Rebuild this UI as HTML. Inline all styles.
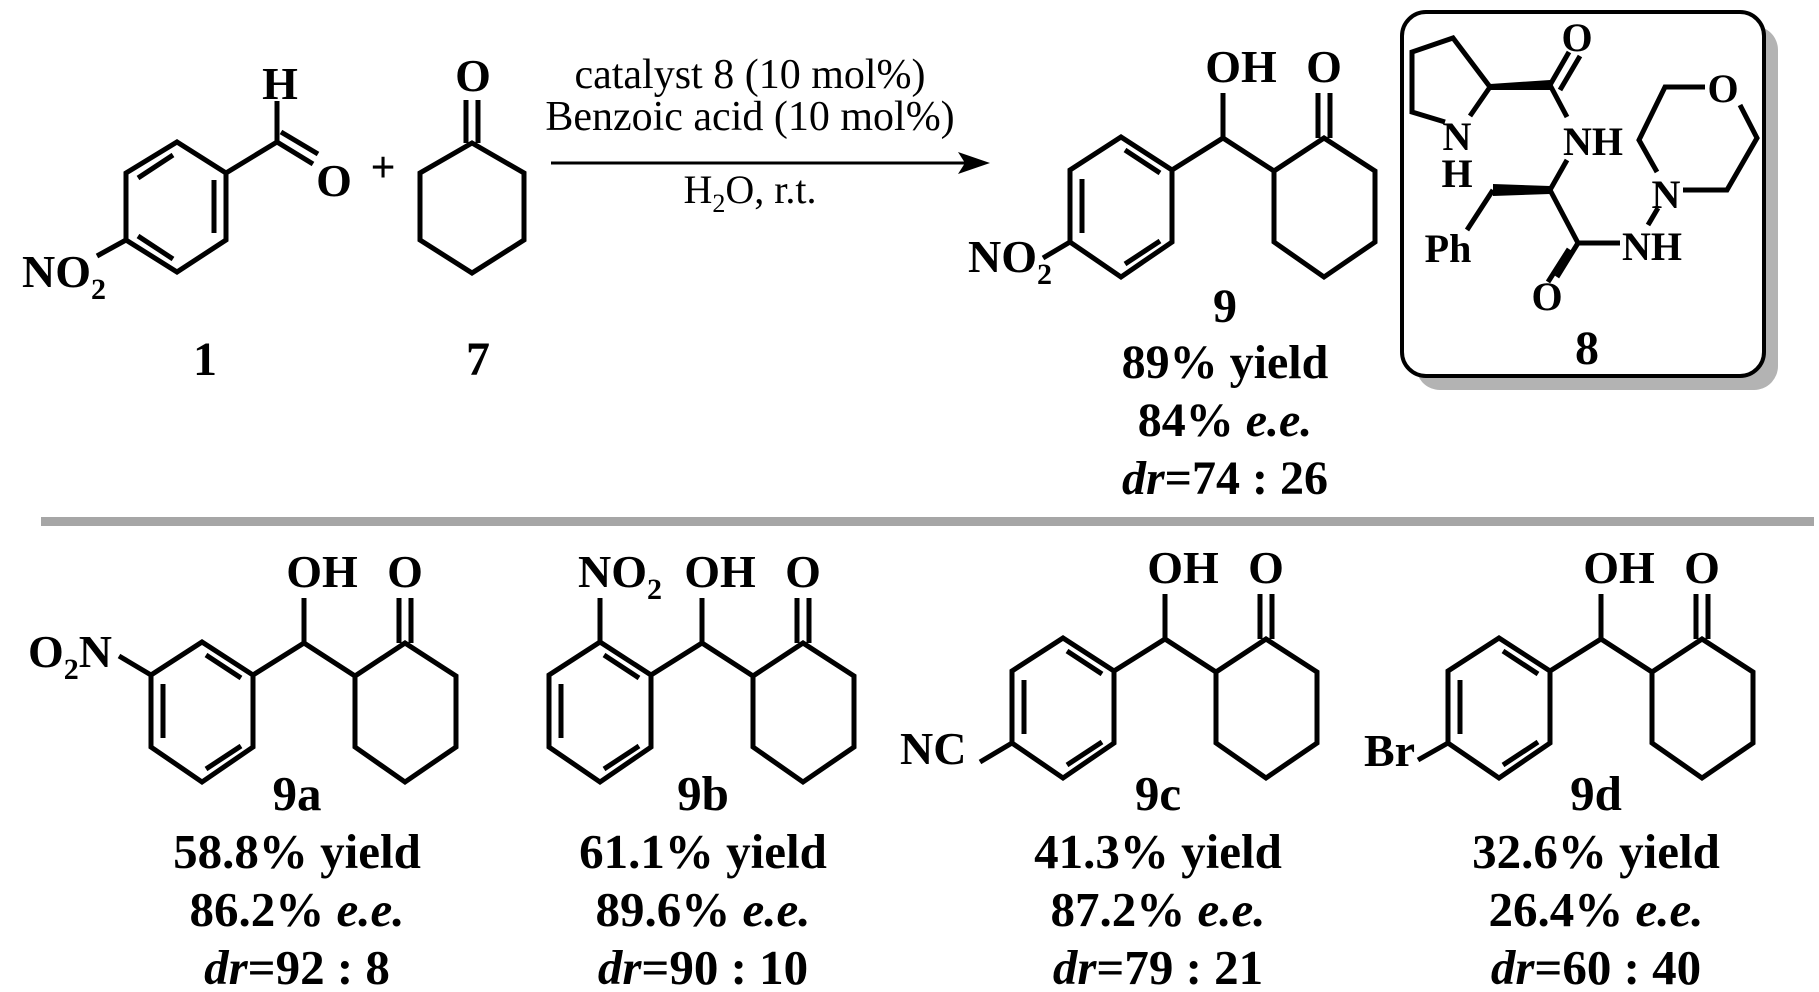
<!DOCTYPE html>
<html><head><meta charset="utf-8"><style>
html,body{margin:0;padding:0;background:#fff;}
svg{display:block}
text{font-family:"Liberation Serif",serif;font-weight:bold;fill:#000}
</style></head><body>
<svg width="1819" height="992" viewBox="0 0 1819 992" xmlns="http://www.w3.org/2000/svg">
<defs>
<g id="benz" fill="none" stroke="#000" stroke-width="5" stroke-linejoin="miter">
<polygon points="202,642 253,675 253,747 202,782 151,747 151,675"/>
<line x1="206" y1="655" x2="241" y2="678"/>
<line x1="163" y1="684" x2="163" y2="738"/>
<line x1="206" y1="769" x2="241" y2="746"/>
</g>
<g id="chx" fill="none" stroke="#000" stroke-width="5">
<polygon points="405,643 456,676 456,747 405,782 355,747 355,676"/>
<line x1="399" y1="643" x2="399" y2="598"/>
<line x1="411" y1="643" x2="411" y2="598"/>
</g>
<g id="prod">
<use href="#benz"/>
<use href="#chx"/>
<polyline points="253,675 304,643 355,676" fill="none" stroke="#000" stroke-width="5"/>
<line x1="304" y1="643" x2="304" y2="598" stroke="#000" stroke-width="5"/>
<text x="322" y="587" font-size="46" text-anchor="middle">OH</text>
<text x="405" y="587" font-size="46" text-anchor="middle">O</text>
</g>
</defs>

<!-- compound 1 -->
<g fill="none" stroke="#000" stroke-width="5">
<polygon points="177,142 226,173 226,240 177,272 126,240 126,173"/>
<line x1="173" y1="155" x2="138" y2="178"/>
<line x1="214" y1="180" x2="214" y2="233"/>
<line x1="173" y1="259" x2="138" y2="236"/>
<polyline points="226,173 277,142 277,101"/>
<line x1="277" y1="142" x2="313" y2="164"/>
<line x1="281" y1="132" x2="318" y2="154"/>
<line x1="97" y1="256" x2="126" y2="240"/>
</g>
<text x="280" y="99" font-size="46" text-anchor="middle">H</text>
<text x="334" y="196" font-size="46" text-anchor="middle">O</text>
<text x="22" y="287" font-size="46">NO<tspan font-size="30" dy="12">2</tspan></text>
<text x="383" y="182" font-size="44" text-anchor="middle">+</text>

<!-- compound 7 -->
<g fill="none" stroke="#000" stroke-width="5">
<polygon points="472,143 524,173 524,240 472,273 420,240 420,173"/>
<line x1="466" y1="143" x2="466" y2="100"/>
<line x1="478" y1="143" x2="478" y2="100"/>
</g>
<text x="473" y="91" font-size="46" text-anchor="middle">O</text>
<text x="205" y="375" font-size="48" text-anchor="middle">1</text>
<text x="478" y="375" font-size="48" text-anchor="middle">7</text>

<!-- arrow -->
<line x1="551" y1="163" x2="965" y2="163" stroke="#000" stroke-width="3"/>
<polygon points="990,163 958,152 965,163 958,174" fill="#000"/>
<text x="750" y="88" font-size="42" text-anchor="middle" style="font-weight:normal">catalyst 8 (10 mol%)</text>
<text x="750" y="130" font-size="42" text-anchor="middle" style="font-weight:normal">Benzoic acid (10 mol%)</text>
<text x="750" y="203" font-size="40" text-anchor="middle" style="font-weight:normal">H<tspan font-size="26" dy="9">2</tspan><tspan dy="-9">O, r.t.</tspan></text>

<!-- product 9 -->
<use href="#prod" transform="translate(919,-505)"/>
<line x1="1070" y1="242" x2="1043" y2="258" stroke="#000" stroke-width="5"/>
<text x="968" y="272" font-size="46">NO<tspan font-size="30" dy="12">2</tspan></text>
<text x="1225" y="322" font-size="48" text-anchor="middle">9</text>
<text x="1225" y="378" font-size="48" text-anchor="middle">89% yield</text>
<text x="1225" y="436" font-size="48" text-anchor="middle">84% <tspan font-style="italic">e.e.</tspan></text>
<text x="1225" y="494" font-size="48" text-anchor="middle"><tspan font-style="italic">dr</tspan>=74 : 26</text>

<!-- box 8 -->
<rect x="1416" y="26" width="362" height="364" rx="24" fill="#b3b3b3"/>
<rect x="1402" y="12" width="362" height="364" rx="24" fill="#fff" stroke="#000" stroke-width="4"/>
<g fill="none" stroke="#000" stroke-width="5">
<polyline points="1445,122 1412,112 1412,52 1453,38 1490,87 1470,116"/>
<polygon points="1490,84 1550,80 1550,90 1490,90" fill="#000" stroke="none"/>
<line x1="1550" y1="85" x2="1569" y2="52"/>
<line x1="1560" y1="90" x2="1580" y2="56"/>
<line x1="1550" y1="85" x2="1567" y2="117"/>
<line x1="1567" y1="160" x2="1550" y2="190"/>
<polygon points="1550,186 1493,184 1493,196 1550,194" fill="#000" stroke="none"/>
<line x1="1493" y1="190" x2="1467" y2="230"/>
<line x1="1550" y1="190" x2="1578" y2="243"/>
<line x1="1578" y1="243" x2="1620" y2="243"/>
<line x1="1578" y1="243" x2="1557" y2="277"/>
<line x1="1569" y1="249" x2="1548" y2="282"/>
<line x1="1648" y1="225" x2="1658" y2="208"/>
<polyline points="1657,172 1639,140 1665,87 1705,87"/>
<polyline points="1740,105 1757,138 1727,190 1683,190"/>
</g>
<text x="1457" y="150" font-size="40" text-anchor="middle">N</text>
<text x="1457" y="187" font-size="40" text-anchor="middle">H</text>
<text x="1577" y="51" font-size="40" text-anchor="middle">O</text>
<text x="1593" y="155" font-size="40" text-anchor="middle">NH</text>
<text x="1448" y="262" font-size="40" text-anchor="middle">Ph</text>
<text x="1547" y="310" font-size="40" text-anchor="middle">O</text>
<text x="1652" y="260" font-size="40" text-anchor="middle">NH</text>
<text x="1666" y="208" font-size="40" text-anchor="middle">N</text>
<text x="1723" y="102" font-size="40" text-anchor="middle">O</text>
<text x="1587" y="364" font-size="48" text-anchor="middle">8</text>

<!-- separator -->
<rect x="41" y="517" width="1773" height="9" fill="#a6a6a6"/>

<!-- 9a -->
<use href="#prod"/>
<line x1="119" y1="656" x2="151" y2="675" stroke="#000" stroke-width="5"/>
<text x="28" y="667" font-size="46">O<tspan font-size="30" dy="12">2</tspan><tspan dy="-12">N</tspan></text>

<!-- 9b -->
<use href="#prod" transform="translate(398,0)"/>
<line x1="600" y1="642" x2="600" y2="598" stroke="#000" stroke-width="5"/>
<text x="578" y="587" font-size="46">NO<tspan font-size="30" dy="12">2</tspan></text>

<!-- 9c -->
<use href="#prod" transform="translate(861,-4)"/>
<line x1="1012" y1="743" x2="980" y2="762" stroke="#000" stroke-width="5"/>
<text x="900" y="764" font-size="46">NC</text>

<!-- 9d -->
<use href="#prod" transform="translate(1297,-4)"/>
<line x1="1448" y1="743" x2="1418" y2="760" stroke="#000" stroke-width="5"/>
<text x="1364" y="766" font-size="46">Br</text>

<g font-size="49" text-anchor="middle">
<text x="297" y="810">9a</text>
<text x="297" y="868">58.8% yield</text>
<text x="297" y="926">86.2% <tspan font-style="italic">e.e.</tspan></text>
<text x="297" y="984"><tspan font-style="italic">dr</tspan>=92 : 8</text>
<text x="703" y="810">9b</text>
<text x="703" y="868">61.1% yield</text>
<text x="703" y="926">89.6% <tspan font-style="italic">e.e.</tspan></text>
<text x="703" y="984"><tspan font-style="italic">dr</tspan>=90 : 10</text>
<text x="1158" y="810">9c</text>
<text x="1158" y="868">41.3% yield</text>
<text x="1158" y="926">87.2% <tspan font-style="italic">e.e.</tspan></text>
<text x="1158" y="984"><tspan font-style="italic">dr</tspan>=79 : 21</text>
<text x="1596" y="810">9d</text>
<text x="1596" y="868">32.6% yield</text>
<text x="1596" y="926">26.4% <tspan font-style="italic">e.e.</tspan></text>
<text x="1596" y="984"><tspan font-style="italic">dr</tspan>=60 : 40</text>
</g>
</svg>
</body></html>
